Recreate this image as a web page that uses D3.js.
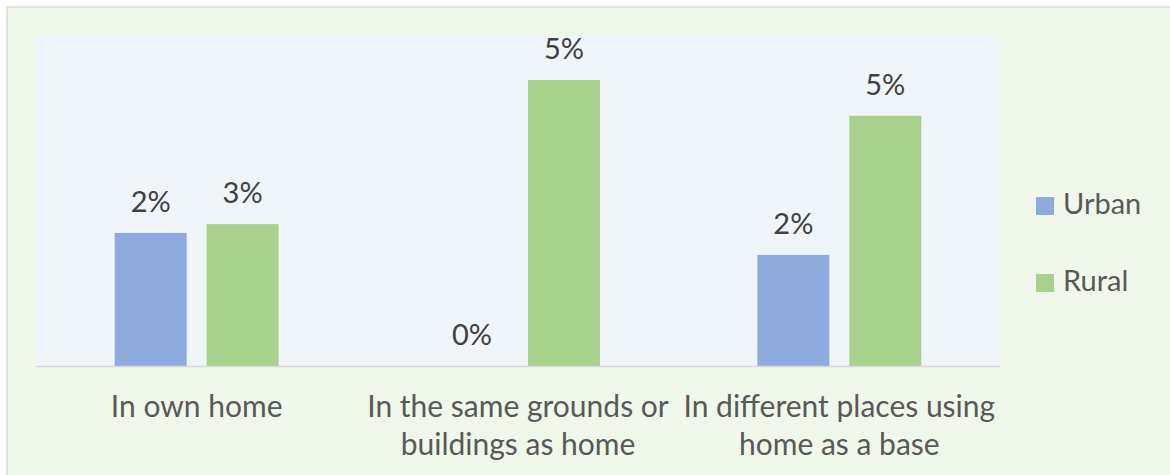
<!DOCTYPE html>
<html><head><meta charset="utf-8">
<script src="https://cdn.jsdelivr.net/npm/d3@7"></script>
<style>
html,body{margin:0;padding:0;background:#fff;}
svg{display:block;font-family:Lato,"Noto Sans",sans-serif;}
</style></head>
<body>
<svg id="c" width="1170" height="475"></svg>
<script>
const categories = [["In own home"], ["In the same grounds or", "buildings as home"], ["In different places using", "home as a base"]];
const seriesNames = ["Urban", "Rural"];
const urban = [0.0242, 0.0, 0.0202];
const rural = [0.0258, 0.052, 0.0455];
const colors = ["#8faadc", "#a9d18e"];
const yMax = 0.06;

const svg = d3.select("#c");
svg.append("rect").attr("x", 7).attr("y", 7).attr("width", 1180).attr("height", 480)
  .attr("fill", "#f0f7eb").attr("stroke", "#d9d9d9").attr("stroke-width", 1.5);

const plot = {left: 36, right: 1000, top: 36, bottom: 366};
svg.append("rect").attr("x", plot.left).attr("y", plot.top)
  .attr("width", plot.right - plot.left).attr("height", plot.bottom - plot.top).attr("fill", "#f0f5fa");

const x0 = d3.scaleBand().domain(d3.range(categories.length)).range([plot.left, plot.right]).paddingInner(0).paddingOuter(0);
const x1 = d3.scaleBand().domain(seriesNames).range([78.7, x0.bandwidth() - 78.7]).paddingInner(20/92);
const y = d3.scaleLinear().domain([0, yMax]).range([plot.bottom, plot.top]);

const data = [];
categories.forEach((c, i) => {
  data.push({i, s: "Urban", v: urban[i], col: colors[0]});
  data.push({i, s: "Rural", v: rural[i], col: colors[1]});
});

svg.append("g").selectAll("rect").data(data).join("rect")
  .attr("x", d => x0(d.i) + x1(d.s))
  .attr("y", d => y(d.v))
  .attr("width", x1.bandwidth())
  .attr("height", d => y(0) - y(d.v))
  .attr("fill", d => d.col);

svg.append("g").selectAll("text").data(data).join("text")
  .attr("x", d => x0(d.i) + x1(d.s) + x1.bandwidth() / 2)
  .attr("y", d => y(d.v) - 21)
  .attr("text-anchor", "middle")
  .attr("font-size", 29)
  .attr("fill", "#404040")
  .text(d => d3.format(".0%")(d.v));

// baseline
svg.append("line").attr("x1", plot.left).attr("x2", plot.right)
  .attr("y1", y(0) + 0.5).attr("y2", y(0) + 0.5).attr("stroke", "#d9d9d9").attr("stroke-width", 1.5);

// category labels
const cl = svg.append("g").selectAll("text").data(categories).join("text")
  .attr("x", (d, i) => x0(i) + x0.bandwidth() / 2)
  .attr("y", 417)
  .attr("text-anchor", "middle")
  .attr("font-size", 30)
  .attr("fill", "#595959");
cl.selectAll("tspan").data(d => d).join("tspan")
  .attr("x", function() { return this.parentNode.getAttribute("x"); })
  .attr("dy", (d, j) => j === 0 ? 0 : 38)
  .text(d => d);

// legend
const lg = svg.append("g").selectAll("g").data(seriesNames).join("g")
  .attr("transform", (d, i) => `translate(1036, ${197 + i * 77})`);
lg.append("rect").attr("width", 18).attr("height", 18).attr("fill", (d, i) => colors[i]);
lg.append("text").attr("x", 27).attr("y", 17).attr("font-size", 29).attr("fill", "#595959").text(d => d);
</script>
</body></html>
